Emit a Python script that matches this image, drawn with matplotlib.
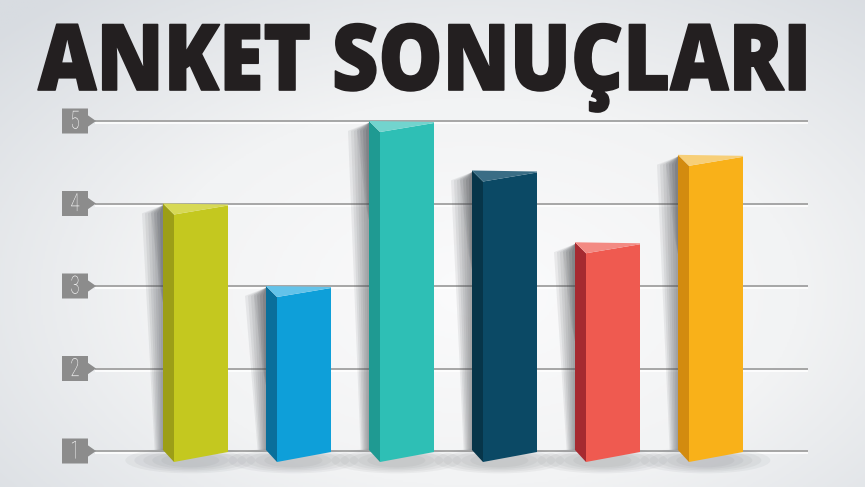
import numpy as np
import matplotlib.pyplot as plt
import matplotlib.patheffects as pe
from matplotlib.patches import Polygon, Ellipse
from matplotlib.colors import LinearSegmentedColormap
from matplotlib.transforms import Affine2D

# survey values (top of each prism on the 1-5 scale)
values = [4.0, 3.0, 5.0, 4.4, 3.53, 4.59]
front_colors = ['#c4c81f', '#0e9fd9', '#2ebfb5', '#0b4965', '#ef5a50', '#f9b119']
side_colors = ['#9c9e17', '#0a6f9b', '#1f9a92', '#073549', '#a62a30', '#d38b0f']
top_colors = ['#d7d955', '#63c3ea', '#72d4ce', '#3a6d85', '#f38a83', '#f7cf78']
ticks = [1, 2, 3, 4, 5]
title = 'ANKET SONUÇLARI'

PX_X = 103.0   # pixels per category
PX_Y = 82.5    # pixels per value unit
X0_PX = 195.5  # pixel position of category 0


def xd(px):
    return (px - X0_PX) / PX_X


class Squeeze(pe.AbstractPathEffect):
    # rescale the text outline around a point (condensed, taller look)
    def __init__(self, sx, sy, cx, cy, lw=0):
        super().__init__()
        self.sx, self.sy, self.cx, self.cy, self.lw = sx, sy, cx, cy, lw

    def draw_path(self, renderer, gc, tpath, affine, rgbFace=None):
        t = affine + (Affine2D().translate(-self.cx, -self.cy)
                      .scale(self.sx, self.sy).translate(self.cx, self.cy))
        gc0 = renderer.new_gc()
        gc0.copy_properties(gc)
        gc0.set_linewidth(self.lw)
        gc0.set_foreground(rgbFace)
        renderer.draw_path(gc0, tpath, t, rgbFace)
        gc0.restore()


fig = plt.figure(figsize=(8.65, 4.87), dpi=100)

# background gradient
bg = fig.add_axes([0, 0, 1, 1])
yy, xx = np.mgrid[0:1:300j, 0:1:500j]
r = np.sqrt(((xx - 0.55) / 0.75) ** 2 + ((yy - 0.6) / 0.8) ** 2)
cmap = LinearSegmentedColormap.from_list('bg', ['#fbfbfc', '#f2f3f4', '#d8dce1'])
bg.imshow(np.clip(r, 0, 1), cmap=cmap, extent=[0, 1, 0, 1], aspect='auto',
          origin='upper', vmin=0, vmax=1)
bg.set_axis_off()

# title, drawn smaller then stretched to span 38..812 px with 65 px caps
base_fs = 52
tt = fig.text(425 / 865, 1 - 90 / 487, title, ha='center', va='baseline',
              fontsize=base_fs, fontweight=800, color='#231f20',
              family=['Open Sans', 'DejaVu Sans'])
fig.canvas.draw()
w = tt.get_window_extent().width
tt.set_path_effects([Squeeze(774 / w, 66 / base_fs, 425, 487 - 90, lw=1.2)])

ax = fig.add_axes([30 / 865, 3 / 487, 805 / 865, 387.75 / 487])
ax.set_xlim(xd(30), xd(835))
ax.set_ylim(0.6, 5.3)
ax.set_axis_off()
ax.patch.set_alpha(0)

# grid lines with light emboss
ax.hlines([t - 2 / PX_Y for t in ticks], xd(95), xd(808), color='white', lw=1.2, zorder=1)
ax.hlines(ticks, xd(95), xd(808), color='#a0a0a0', lw=1.3, zorder=1)

# tag shaped tick labels
for t in ticks:
    h = 12.5 / PX_Y
    tag = Polygon([(xd(62), t - h), (xd(88), t - h), (xd(88), t - h * 0.45),
                   (xd(96), t), (xd(88), t + h * 0.45), (xd(88), t + h),
                   (xd(62), t + h)], closed=True, fc='#8c8c8c', ec='none', zorder=2)
    ax.add_patch(tag)
    num = ax.text(xd(75), t - 0.01, str(t), ha='center', va='center', color='white',
                  fontsize=15, fontweight='light', family=['Roboto', 'DejaVu Sans'],
                  zorder=3)
    # taller, narrower digits
    cy = ax.transData.transform((0, t))[1]
    num.set_path_effects([Squeeze(0.8, 1.2, 75, cy)])

base_front = 1 - 11 / PX_Y   # front face bottom-left
base_right = 1 - 1 / PX_Y    # front face bottom-right
base_side = 1 + 1 / PX_Y     # side bottom-left
side_w = 11 / PX_X
bar_w = 65 / PX_X

for i, v in enumerate(values):
    left = i - 32.5 / PX_X
    inner = left + side_w
    right = left + bar_w
    drop = 11 / PX_Y

    # floor shadow
    for k in range(5):
        ax.add_patch(Ellipse((i - 0.05, base_front + 0.02), (130 - k * 18) / PX_X,
                             (26 - k * 3) / PX_Y, fc='#6b6f74', ec='none',
                             alpha=0.07, zorder=2))
    # side shadow, darker near the top
    for k in range(7):
        off = (k + 1) * 3 / PX_X
        ax.add_patch(Polygon([(left - off, v - 0.12), (left, v - 0.02),
                              (left, base_side), (left - off * 0.4, base_side)],
                             closed=True, fc='#4a4d52', ec='none', alpha=0.09, zorder=2))
    for k in range(4):
        off = (k + 1) * 3 / PX_X
        ax.add_patch(Polygon([(left - off, v - 0.1), (left, v - 0.02),
                              (left, v - 1.2), (left - off * 0.3, v - 1.0)],
                             closed=True, fc='#3a3d42', ec='none', alpha=0.08, zorder=2))

    ax.add_patch(Polygon([(left, v), (inner, v - drop), (inner, base_front),
                          (left, base_side)], closed=True,
                         fc=side_colors[i], ec='none', zorder=3))
    ax.add_patch(Polygon([(inner, v - drop), (right, v - 2 / PX_Y), (right, base_right),
                          (inner, base_front)], closed=True,
                         fc=front_colors[i], ec='none', zorder=3))
    ax.add_patch(Polygon([(left, v), (right, v - 1 / PX_Y), (right, v - 2 / PX_Y),
                          (inner, v - drop)], closed=True,
                         fc=top_colors[i], ec='none', zorder=4))

fig.savefig('out.png', dpi=100)
